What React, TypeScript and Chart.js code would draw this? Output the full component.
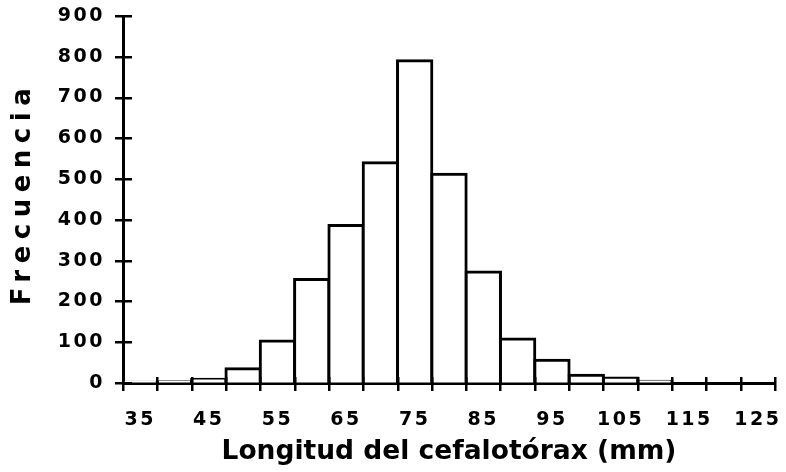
import React, { useEffect, useRef } from 'react';
import { Chart, registerables } from 'chart.js';

Chart.register(...registerables);

// ---- data ----
const binLabels = ['35', '40', '45', '50', '55', '60', '65', '70', '75', '80', '85', '90', '95', '100', '105', '110', '115', '120', '125'];
const frequencies = [2, 3, 9, 35, 103, 254, 386, 540, 790, 512, 272, 108, 56, 19, 12, 4, 0, 0, 0];
const yMin = 0;
const yMax = 900;
const yStep = 100;
const xTitle = 'Longitud del cefalotórax (mm)';
const yTitle = 'Frecuencia';

// ---- style ----
const TICK_SPACING = '2.5px';
const YTITLE_SPACING = '6.5px';
const XTITLE_SPACING = '0px';
const tickFont = { family: 'DejaVu Sans', weight: 'bold' as const, size: 19 };

function withSpacing(ctx: any, sp: string, fn: () => void) {
  const prev = ctx.letterSpacing;
  ctx.letterSpacing = sp;
  try {
    fn();
  } finally {
    ctx.letterSpacing = prev ?? '0px';
  }
}

function wrapScale(scale: any, titleSpacing: string, titleShift: number) {
  if (scale.__wrapped) return;
  scale.__wrapped = true;
  const origTitle = scale.drawTitle;
  const origLabels = scale.drawLabels;
  scale.drawTitle = function (...args: any[]) {
    const ctx = this.ctx;
    ctx.save();
    ctx.translate(0, titleShift);
    withSpacing(ctx, titleSpacing, () => origTitle.apply(this, args));
    ctx.restore();
  };
  scale.drawLabels = function (...args: any[]) {
    withSpacing(this.ctx, TICK_SPACING, () => origLabels.apply(this, args));
  };
}

const stylePlugin = {
  id: 'histStyle',
  beforeLayout(chart: any) {
    chart.ctx.letterSpacing = TICK_SPACING;
  },
  afterLayout(chart: any) {
    chart.ctx.letterSpacing = '0px';
    wrapScale(chart.scales.x, XTITLE_SPACING, 0);
    wrapScale(chart.scales.y, YTITLE_SPACING, -6);
  },
  afterDraw(chart: any) {
    const { ctx, chartArea } = chart;
    const xs = chart.scales.x;
    const ys = chart.scales.y;
    ctx.save();
    ctx.strokeStyle = '#000';
    ctx.lineWidth = 2.5;
    ctx.beginPath();
    const n = xs.getLabels().length;
    for (let i = 0; i <= n; i++) {
      const x = Math.round(xs.getPixelForValue(i - 0.5)) + 0.25;
      ctx.moveTo(x, chartArea.bottom - 6);
      ctx.lineTo(x, chartArea.bottom + 8);
    }
    for (const t of ys.ticks) {
      const y = Math.round(ys.getPixelForValue(t.value)) + 0.25;
      ctx.moveTo(chartArea.left - 8, y);
      ctx.lineTo(chartArea.left + 9, y);
    }
    ctx.stroke();
    ctx.restore();
  },
};

export default function App() {
  const canvasRef = useRef<HTMLCanvasElement | null>(null);

  useEffect(() => {
    if (!canvasRef.current) return;
    const gridOpts = {
      display: true,
      drawOnChartArea: false,
      drawTicks: false,
      color: 'rgba(0,0,0,0)',
      lineWidth: 1,
    };
    const chart = new Chart(canvasRef.current, {
      type: 'bar',
      data: {
        labels: binLabels,
        datasets: [
          {
            data: frequencies,
            backgroundColor: '#ffffff',
            borderColor: '#000000',
            borderWidth: 3,
            inflateAmount: 1.5,
            barPercentage: 1,
            categoryPercentage: 1,
            borderSkipped: 'start',
          } as any,
        ],
      },
      options: {
        animation: false,
        responsive: true,
        maintainAspectRatio: false,
        layout: { padding: { top: 16, right: 11, bottom: 0, left: 0 } },
        plugins: {
          legend: { display: false },
          tooltip: { enabled: false },
        },
        scales: {
          x: {
            type: 'category',
            offset: true,
            grid: { ...gridOpts, offset: true },
            border: { display: true, color: '#000', width: 3 },
            ticks: {
              autoSkip: false,
              maxRotation: 0,
              minRotation: 0,
              padding: 26,
              color: '#000',
              font: tickFont,
              callback: (_v: any, i: number) => (i % 2 === 0 ? binLabels[i] : ''),
            },
            title: {
              display: true,
              text: xTitle,
              color: '#000',
              font: { family: 'DejaVu Sans', weight: 'bold', size: 26.5 },
              padding: { top: 0, bottom: 4 },
            },
            afterFit: (s: any) => {
              s.height = 89;
              s.paddingLeft = 0;
              s.paddingRight = 0;
            },
          },
          y: {
            min: yMin,
            max: yMax,
            grid: gridOpts,
            border: { display: true, color: '#000', width: 3 },
            ticks: {
              stepSize: yStep,
              padding: 18,
              color: '#000',
              font: tickFont,
            },
            title: {
              display: true,
              text: yTitle,
              color: '#000',
              font: { family: 'DejaVu Sans', weight: 'bold', size: 26 },
              padding: { top: 8, bottom: 0 },
            },
            afterFit: (s: any) => {
              s.width = 123;
              s.paddingTop = 0;
              s.paddingBottom = 0;
            },
          },
        },
      } as any,
      plugins: [stylePlugin],
    });
    return () => chart.destroy();
  }, []);

  return (
    <div style={{ position: 'absolute', left: 0, top: 0, width: 786, height: 472, background: '#fff' }}>
      <canvas ref={canvasRef} />
    </div>
  );
}
